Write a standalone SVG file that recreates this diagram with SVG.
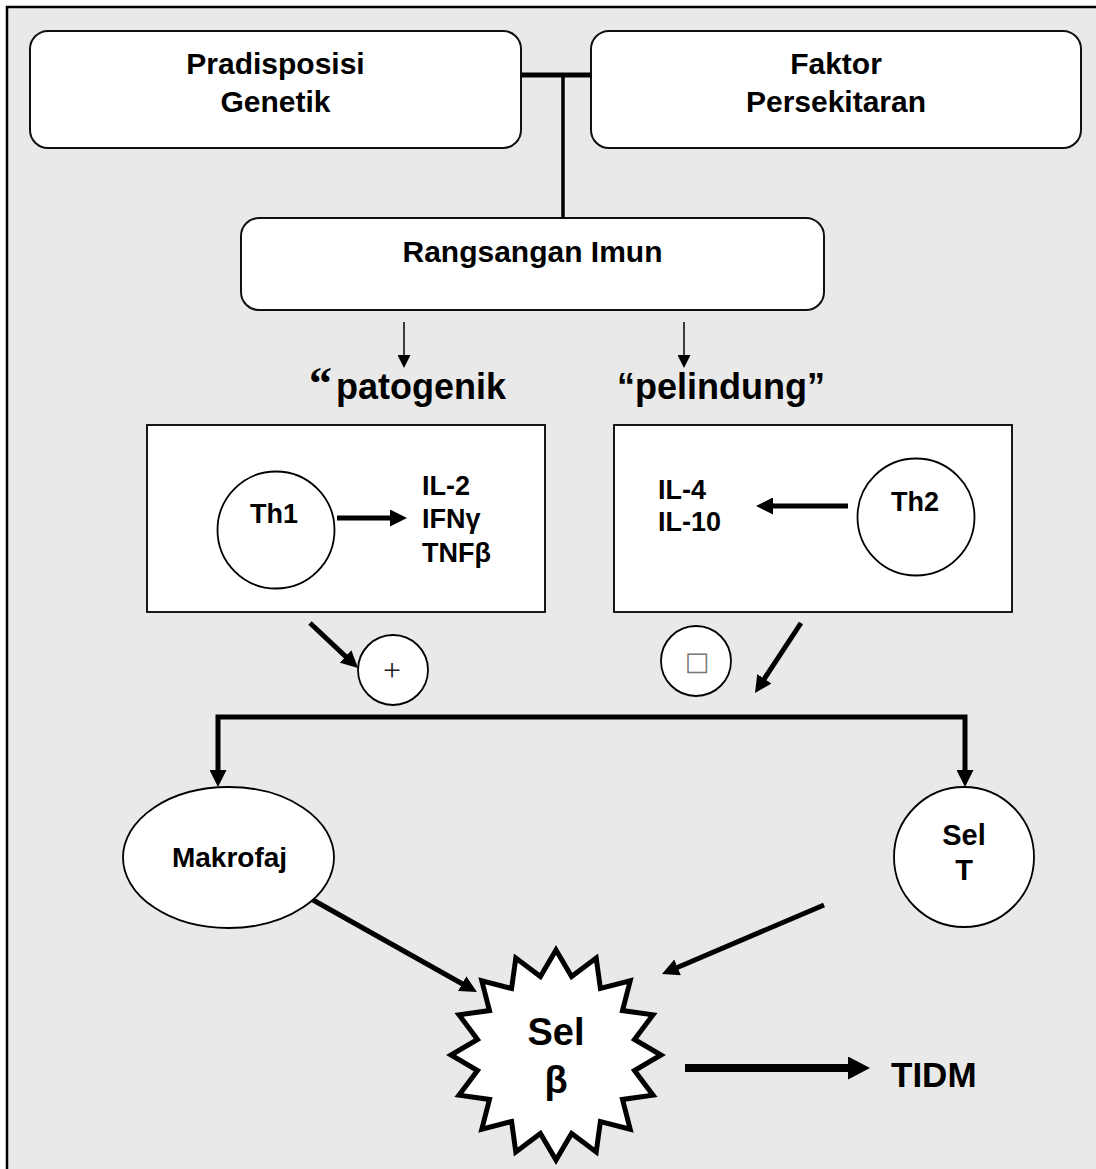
<svg xmlns="http://www.w3.org/2000/svg" width="1096" height="1169" viewBox="0 0 1096 1169">
<style>
.t{font-family:"Liberation Sans",Arial,sans-serif;font-weight:bold;fill:#000}
.box{fill:#fff;stroke:#111;stroke-width:2}
.cell{fill:#fff;stroke:#000;stroke-width:1.8}
.thick{stroke:#000;stroke-width:5;fill:none}
.thin{stroke:#000;stroke-width:1.5;fill:none}
</style>
<defs>
<marker id="ah" markerUnits="userSpaceOnUse" markerWidth="17" markerHeight="17" refX="1" refY="8.5" orient="auto"><path d="M0,0 L17,8.5 L0,17 z" fill="#000"/></marker>
<marker id="ahd" markerUnits="userSpaceOnUse" markerWidth="17" markerHeight="17" refX="1" refY="8.5" orient="auto-start-reverse"><path d="M0,0 L17,8.5 L0,17 z" fill="#000"/></marker>
<marker id="ahs" markerUnits="userSpaceOnUse" markerWidth="13" markerHeight="13" refX="1" refY="6.5" orient="auto"><path d="M0,0 L13,6.5 L0,13 z" fill="#000"/></marker>
<marker id="ahb" markerUnits="userSpaceOnUse" markerWidth="22" markerHeight="23" refX="1" refY="11.5" orient="auto"><path d="M0,0 L22,11.5 L0,23 z" fill="#000"/></marker>
</defs>
<rect x="7" y="7" width="1100" height="1170" fill="#e9e9e9" stroke="#000" stroke-width="2.5"/>

<g id="n-pradisposisi">
<rect x="30" y="31" width="491" height="117" rx="18" class="box"/>
<text class="t" font-size="30" text-anchor="middle"><tspan x="275.5" y="74">Pradisposisi</tspan><tspan x="275.5" y="112">Genetik</tspan></text>
</g>
<g id="n-faktor">
<rect x="591" y="31" width="490" height="117" rx="18" class="box"/>
<text class="t" font-size="30" text-anchor="middle"><tspan x="836" y="74">Faktor</tspan><tspan x="836" y="112">Persekitaran</tspan></text>
</g>
<g id="n-rangsangan">
<rect x="241" y="218" width="583" height="92" rx="18" class="box"/>
<text class="t" font-size="30" text-anchor="middle" x="532.5" y="262">Rangsangan Imun</text>
</g>

<g id="n-patogenik">
<text class="t" font-size="36" y="399"><tspan x="309" font-family="'Liberation Serif',serif" font-size="46">“</tspan><tspan x="336">patogenik</tspan></text>
</g>
<g id="n-pelindung">
<text class="t" font-size="36" text-anchor="middle" x="721" y="399">“pelindung”</text>
</g>

<g id="n-th1box">
<rect x="147" y="425" width="398" height="187" class="cell"/>
</g>
<g id="n-th1">
<circle cx="276" cy="530" r="58.5" class="cell"/>
<text class="t" font-size="27" text-anchor="middle" x="274" y="523">Th1</text>
</g>
<g id="n-th1cytokines">
<text class="t" font-size="27"><tspan x="422" y="495">IL-2</tspan><tspan x="422" y="528">IFNγ</tspan><tspan x="422" y="562">TNFβ</tspan></text>
</g>

<g id="n-th2box">
<rect x="614" y="425" width="398" height="187" class="cell"/>
</g>
<g id="n-th2">
<circle cx="916" cy="517" r="58.5" class="cell"/>
<text class="t" font-size="27" text-anchor="middle" x="915" y="511">Th2</text>
</g>
<g id="n-th2cytokines">
<text class="t" font-size="27"><tspan x="658" y="499">IL-4</tspan><tspan x="658" y="531">IL-10</tspan></text>
</g>

<g id="n-plus">
<circle cx="393" cy="670" r="35" class="cell"/>
<text x="392" y="681" font-family="'Liberation Serif',serif" font-size="32" text-anchor="middle" fill="#222">+</text>
</g>
<g id="n-minus">
<circle cx="696" cy="661" r="35" class="cell"/>
<text x="697" y="670" font-family="'DejaVu Sans',sans-serif" font-size="26" text-anchor="middle" fill="#777">□</text>
</g>

<g id="n-makrofaj">
<ellipse cx="228.5" cy="857.5" rx="105.5" ry="70.5" class="cell"/>
<text class="t" font-size="28" text-anchor="middle" x="229.5" y="867">Makrofaj</text>
</g>
<g id="n-selt">
<circle cx="964" cy="857" r="70" class="cell"/>
<text class="t" font-size="29" text-anchor="middle"><tspan x="964" y="845">Sel</tspan><tspan x="964" y="880">T</tspan></text>
</g>

<g id="n-selbeta">
<polygon points="556,950 571.6,976.5 596.2,958 600.4,988.5 630.2,980.8 622.5,1010.6 653,1014.8 634.5,1039.4 661,1055 634.5,1070.6 653,1095.2 622.5,1099.4 630.2,1129.2 600.4,1121.5 596.2,1152 571.6,1133.5 556,1160 540.4,1133.5 515.8,1152 511.6,1121.5 481.8,1129.2 489.5,1099.4 459,1095.2 477.5,1070.6 451,1055 477.5,1039.4 459,1014.8 489.5,1010.6 481.8,980.8 511.6,988.5 515.8,958 540.4,976.5" fill="#fff" stroke="#000" stroke-width="5" stroke-linejoin="miter" stroke-miterlimit="10"/>
<text class="t" font-size="38" text-anchor="middle"><tspan x="556" y="1045">Sel</tspan><tspan x="556" y="1093">β</tspan></text>
</g>

<g id="n-tidm">
<text class="t" font-size="35" x="891" y="1087">TIDM</text>
</g>

<g id="connectors">
<line x1="521" y1="75" x2="591" y2="75" class="thick"/>
<line x1="563" y1="75" x2="563" y2="218" stroke="#000" stroke-width="3.5"/>
<line x1="404" y1="322" x2="404" y2="356" class="thin" marker-end="url(#ahs)"/>
<line x1="684" y1="322" x2="684" y2="356" class="thin" marker-end="url(#ahs)"/>
<line x1="337" y1="518" x2="391" y2="518" class="thick" marker-end="url(#ah)"/>
<line x1="848" y1="506" x2="772" y2="506" class="thick" marker-end="url(#ah)"/>
<line x1="310" y1="623" x2="346.3" y2="657.1" class="thick" marker-end="url(#ah)"/>
<line x1="801" y1="623" x2="763.8" y2="679.6" class="thick" marker-end="url(#ah)"/>
<path d="M218,771 L218,717 L965,717 L965,771" class="thick" stroke-linejoin="miter" marker-start="url(#ahd)" marker-end="url(#ah)"/>
<line x1="313" y1="900" x2="463" y2="984.2" class="thick" marker-end="url(#ah)"/>
<line x1="824" y1="905" x2="676.7" y2="967.7" class="thick" marker-end="url(#ah)"/>
<line x1="685" y1="1068" x2="849" y2="1068" stroke="#000" stroke-width="8" marker-end="url(#ahb)"/>
</g>
</svg>
